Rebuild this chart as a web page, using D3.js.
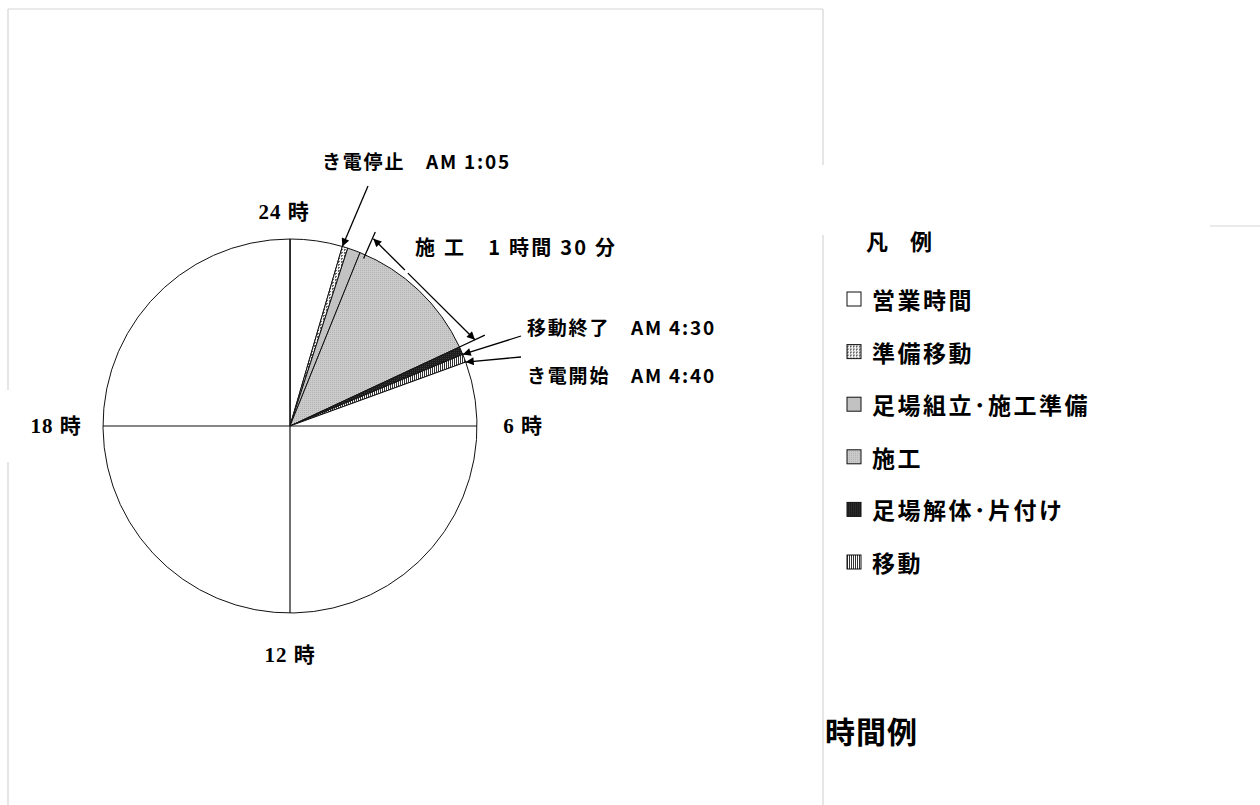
<!DOCTYPE html>
<html lang="ja">
<head>
<meta charset="utf-8">
<title>時間例</title>
<script src="https://cdn.jsdelivr.net/npm/d3@7/dist/d3.min.js"></script>
<style>
  html, body { margin: 0; padding: 0; background: #fff; }
  svg { display: block; }
</style>
</head>
<body>
<svg id="chart" width="1260" height="805"></svg>
<script>
// Work schedule over one day, slices in minutes clockwise from 0:00
const segmentNames = ["営業時間", "準備移動", "足場組立・施工準備", "施工", "足場解体・片付け", "移動", "営業時間"];
const segmentMinutes = [65, 7, 16, 172, 10, 10, 1160];

// Legend categories (in legend order)
const legendNames = ["営業時間", "準備移動", "足場組立・施工準備", "施工", "足場解体・片付け", "移動"];

// Clock labels around the dial
const hourTicks = [24, 6, 12, 18];
const hourLabels = ["24 時", "6 時", "12 時", "18 時"];

// Time callouts: label text and the slice boundary (minutes from 0:00) they point at
const calloutTexts = ["き電停止　AM 1:05", "移動終了　AM 4:30", "き電開始　AM 4:40"];
const calloutMinutes = [65, 270, 280];
const spanLabel = "施 工　1 時間 30 分";
const legendTitle = "凡　例";
const pageTitle = "時間例";

const svg = d3.select("#chart");
const cx = 290, cy = 426, R = 187;
const sansBold = "'Noto Sans CJK JP', 'Noto Sans', sans-serif";
const serifBold = "'Liberation Serif', 'DejaVu Serif', 'Noto Sans CJK JP', serif";

// ---- patterns ----
const defs = svg.append("defs");
function pattern(id, w, h, bg, draw) {
  const p = defs.append("pattern").attr("id", id).attr("patternUnits", "userSpaceOnUse")
    .attr("width", w).attr("height", h);
  p.append("rect").attr("width", w).attr("height", h).attr("fill", bg);
  draw(p);
}
pattern("p-prep", 3, 3, "#f2f2f2", p => {
  p.append("rect").attr("x", 0).attr("y", 0).attr("width", 2).attr("height", 1).attr("fill", "#666");
  p.append("rect").attr("x", 0).attr("y", 1).attr("width", 1).attr("height", 1).attr("fill", "#666");
});
pattern("p-work", 2, 2, "#cbcbcb", p => {
  p.append("rect").attr("x", 0).attr("y", 0).attr("width", 1).attr("height", 1).attr("fill", "#b2b2b2");
});
pattern("p-dis", 2, 2, "#1c1c1c", p => {
  p.append("rect").attr("x", 0).attr("y", 0).attr("width", 1).attr("height", 1).attr("fill", "#3a3a3a");
});
pattern("p-move", 2, 2, "#ffffff", p => {
  p.append("rect").attr("x", 0).attr("y", 0).attr("width", 1).attr("height", 2).attr("fill", "#333");
});
defs.append("marker").attr("id", "arrow").attr("viewBox", "0 0 10 10")
  .attr("refX", 10).attr("refY", 5).attr("markerWidth", 10).attr("markerHeight", 8)
  .attr("markerUnits", "userSpaceOnUse").attr("orient", "auto-start-reverse")
  .append("path").attr("d", "M0,0 L10,5 L0,10 z").attr("fill", "#000");

const fillScale = d3.scaleOrdinal()
  .domain(legendNames)
  .range(["#ffffff", "url(#p-prep)", "#c2c2c2", "url(#p-work)", "url(#p-dis)", "url(#p-move)"]);

// ---- frame lines ----
const frame = svg.append("g").attr("stroke", "#d6d6d6").attr("stroke-width", 1.2).attr("fill", "none");
[[8, 9, 823, 9], [8, 9, 8, 390], [8, 462, 8, 805], [823, 9, 823, 165], [823, 235, 823, 805], [1210, 226, 1260, 226]]
  .forEach(([x1, y1, x2, y2]) => frame.append("line").attr("x1", x1).attr("y1", y1).attr("x2", x2).attr("y2", y2));

// ---- pie ----
const totalMinutes = d3.sum(segmentMinutes);
const angle = d3.scaleLinear().domain([0, totalMinutes]).range([0, 2 * Math.PI]);
const hourAngle = d3.scaleLinear().domain([0, 24]).range([0, 2 * Math.PI]);
const polar = (a, r) => [cx + r * Math.sin(a), cy - r * Math.cos(a)];

const data = segmentNames.map((n, i) => ({ name: n, minutes: segmentMinutes[i] }));
const pie = d3.pie().sort(null).value(d => d.minutes).startAngle(0).endAngle(2 * Math.PI);
const arc = d3.arc().innerRadius(0).outerRadius(R);

const g = svg.append("g").attr("transform", `translate(${cx},${cy})`);
g.selectAll("path.slice").data(pie(data)).join("path")
  .attr("class", "slice")
  .attr("d", arc)
  .attr("fill", d => fillScale(d.data.name))
  .attr("stroke", "#111").attr("stroke-width", 1).attr("stroke-linejoin", "round");

// quarter-hour cross lines (0/6/12/18 時)
svg.append("g").attr("stroke", "#111").attr("stroke-width", 1.2)
  .selectAll("line").data([0, 6, 12, 18]).join("line")
  .attr("x1", cx).attr("y1", cy)
  .attr("x2", h => polar(hourAngle(h), R)[0])
  .attr("y2", h => polar(hourAngle(h), R)[1]);

// clock labels
const labelRadius = [214, 233, 229, 234];
svg.append("g").selectAll("text").data(hourTicks).join("text")
  .attr("x", (h, i) => polar(hourAngle(h % 24), labelRadius[i])[0] + (i === 0 ? -6 : 0))
  .attr("y", (h, i) => polar(hourAngle(h % 24), labelRadius[i])[1])
  .attr("text-anchor", "middle").attr("dominant-baseline", "central")
  .attr("font-family", serifBold).attr("font-weight", "bold").attr("font-size", 21)
  .attr("letter-spacing", 1)
  .attr("fill", "#000")
  .text((h, i) => hourLabels[i]);

// ---- callouts ----
const ann = svg.append("g").attr("stroke", "#000").attr("stroke-width", 1.3).attr("fill", "none");
const calloutStarts = [[368, 186], [521, 336], [521, 357]];
const calloutTextPos = [[322, 160], [527, 326], [527, 374]];
calloutMinutes.forEach((m, i) => {
  const tip = polar(angle(m), R);
  ann.append("line")
    .attr("x1", calloutStarts[i][0]).attr("y1", calloutStarts[i][1])
    .attr("x2", tip[0]).attr("y2", tip[1])
    .attr("marker-end", "url(#arrow)");
});
svg.append("g").selectAll("text").data(calloutTexts).join("text")
  .attr("x", (d, i) => calloutTextPos[i][0]).attr("y", (d, i) => calloutTextPos[i][1])
  .attr("dominant-baseline", "central")
  .attr("font-family", sansBold).attr("font-weight", "bold").attr("font-size", 19)
  .attr("letter-spacing", 1.8)
  .attr("fill", "#000")
  .text(d => d);

// span dimension for the 施工 slice
const pieArcs = pie(data);
const work = pieArcs[3];
const a0 = work.startAngle, a1 = work.endAngle;
// extension lines beyond the circle
[[a0 + 0.03, R - 4, 212], [a1, R, 215]].forEach(([a, r0, r1]) => {
  const p0 = polar(a, r0), p1 = polar(a, r1);
  ann.append("line").attr("x1", p0[0]).attr("y1", p0[1]).attr("x2", p1[0]).attr("y2", p1[1]);
});
const s = polar(a0 + 0.035, 205), e = polar(a1, 204);
const split = 0.31, gap = 0.03;
const lerp = t => [s[0] + (e[0] - s[0]) * t, s[1] + (e[1] - s[1]) * t];
const m1 = lerp(split), m2 = lerp(split + gap);
ann.append("line").attr("x1", m1[0]).attr("y1", m1[1]).attr("x2", s[0]).attr("y2", s[1])
  .attr("marker-end", "url(#arrow)");
ann.append("line").attr("x1", m2[0]).attr("y1", m2[1]).attr("x2", e[0]).attr("y2", e[1])
  .attr("marker-end", "url(#arrow)");
svg.append("text").attr("x", 415).attr("y", 246).attr("dominant-baseline", "central")
  .attr("font-family", sansBold).attr("font-weight", "bold").attr("font-size", 20)
  .attr("letter-spacing", 2.2).attr("fill", "#000").text(spanLabel);

// ---- legend ----
svg.append("text").attr("x", 866).attr("y", 240).attr("dominant-baseline", "central")
  .attr("font-family", sansBold).attr("font-weight", "bold").attr("font-size", 22)
  .attr("fill", "#000").text(legendTitle);
const legendY = d3.scalePoint().domain(legendNames).range([299, 562]);
const lg = svg.append("g").selectAll("g").data(legendNames).join("g")
  .attr("transform", d => `translate(847,${legendY(d)})`);
lg.append("rect").attr("x", 0).attr("y", -7).attr("width", 14).attr("height", 14)
  .attr("fill", d => fillScale(d)).attr("stroke", "#111").attr("stroke-width", 1);
lg.append("text").attr("x", 25).attr("y", 0).attr("dominant-baseline", "central")
  .attr("font-family", sansBold).attr("font-weight", "bold").attr("font-size", 23)
  .attr("letter-spacing", 2.5).attr("fill", "#000")
  .text(d => d.replace("・", "･"));

// page title
svg.append("text").attr("x", 825).attr("y", 730).attr("dominant-baseline", "central")
  .attr("font-family", sansBold).attr("font-weight", "bold").attr("font-size", 30)
  .attr("letter-spacing", 1).attr("fill", "#000").text(pageTitle);
</script>
</body>
</html>
